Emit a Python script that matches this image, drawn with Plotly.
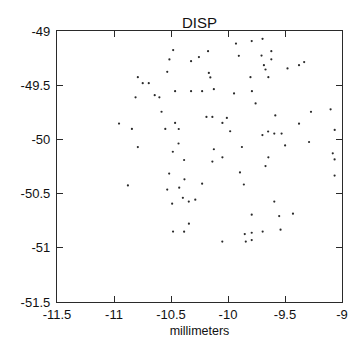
import plotly.graph_objects as go

# Displacement sample positions (millimeters)
disp_x = [
    -10.481, -10.514, -10.533, -10.791, -10.748, -10.695, -10.464, -10.811, -10.643, -10.602,
    -10.583, -10.956, -10.843, -10.464, -10.550, -10.432, -10.791, -10.434, -10.484, -10.385,
    -10.516, -10.382, -10.878, -10.533, -10.428, -10.490, -10.396, -10.344, -10.287, -10.343,
    -10.482, -10.385,
    -9.930, -9.792, -10.175, -9.905, -10.255, -10.324, -10.168, -10.155, -9.803, -10.324,
    -10.227, -10.124, -9.947, -9.790, -9.758, -10.189, -10.137, -10.010, -10.049, -9.981,
    -10.124, -9.878,
    -9.697, -9.620, -9.706, -9.620, -9.685, -9.671, -9.646, -9.478, -9.377, -9.332,
    -9.272, -9.100, -9.585, -9.377, -9.648, -9.594, -9.530, -9.698, -9.064, -9.289,
    -9.499, -9.081, -9.065, -9.065,
    -10.049, -10.137, -9.895, -9.861, -10.227, -9.792, -9.853, -9.792, -9.792, -10.050,
    -9.844,
    -9.646, -9.671, -9.594, -9.551, -9.430, -9.696, -9.539,
]
disp_y = [
    -49.176, -49.262, -49.377, -49.426, -49.481, -49.481, -49.555, -49.612, -49.592, -49.612,
    -49.745, -49.854, -49.903, -49.848, -49.903, -49.904, -50.071, -50.038, -50.114, -50.190,
    -50.315, -50.368, -50.425, -50.463, -50.445, -50.593, -50.539, -50.574, -50.556, -50.777,
    -50.850, -50.851,
    -49.116, -49.093, -49.186, -49.229, -49.241, -49.278, -49.387, -49.428, -49.426, -49.555,
    -49.555, -49.537, -49.576, -49.555, -49.668, -49.793, -49.793, -49.802, -49.848, -49.925,
    -50.091, -50.070,
    -49.072, -49.186, -49.227, -49.261, -49.315, -49.355, -49.426, -49.345, -49.315, -49.287,
    -49.746, -49.723, -49.779, -49.855, -49.927, -49.946, -49.946, -49.960, -49.913, -50.024,
    -50.056, -50.128, -50.185, -50.334,
    -50.165, -50.205, -50.305, -50.416, -50.408, -50.694, -50.873, -50.861, -50.929, -50.943,
    -50.943,
    -50.165, -50.246, -50.574, -50.707, -50.685, -50.850, -50.833,
]

x_ticks = [-11.5, -11, -10.5, -10, -9.5, -9]
x_tick_text = ["-11.5", "-11", "-10.5", "-10", "-9.5", "-9"]
y_ticks = [-49, -49.5, -50, -50.5, -51, -51.5]
y_tick_text = ["-49", "-49.5", "-50", "-50.5", "-51", "-51.5"]

FONT = "Liberation Sans, Arial, sans-serif"

fig = go.Figure(
    go.Scatter(
        x=disp_x,
        y=disp_y,
        mode="markers",
        marker=dict(size=2.2, color="#2a2a2a", line=dict(width=0)),
        hoverinfo="x+y",
    )
)

axis_common = dict(
    showgrid=False,
    zeroline=False,
    showline=True,
    linecolor="#2a2a2a",
    linewidth=1.3,
    mirror="ticks",
    ticks="inside",
    ticklen=6,
    tickwidth=1.3,
    tickcolor="#2a2a2a",
    tickfont=dict(family=FONT, size=13, color="#111111"),
)

fig.update_xaxes(
    range=[-11.5, -9],
    tickvals=x_ticks,
    ticktext=x_tick_text,
    title=dict(text="millimeters",
               font=dict(family=FONT, size=12.5, color="#111111"),
               standoff=5),
    **axis_common,
)
fig.update_yaxes(
    range=[-51.5, -49],
    tickvals=y_ticks,
    ticktext=y_tick_text,
    ticklabelstandoff=3,
    **axis_common,
)

fig.update_layout(
    width=360,
    height=352,
    margin=dict(l=57, r=13, t=31, b=50, pad=0),
    paper_bgcolor="#ffffff",
    plot_bgcolor="#ffffff",
    showlegend=False,
    title=dict(
        text="DISP",
        x=0.5,
        xref="paper",
        y=1,
        yref="paper",
        yanchor="bottom",
        pad=dict(b=3),
        font=dict(family=FONT, size=15, color="#111111"),
    ),
)

fig.write_html("out.html")
